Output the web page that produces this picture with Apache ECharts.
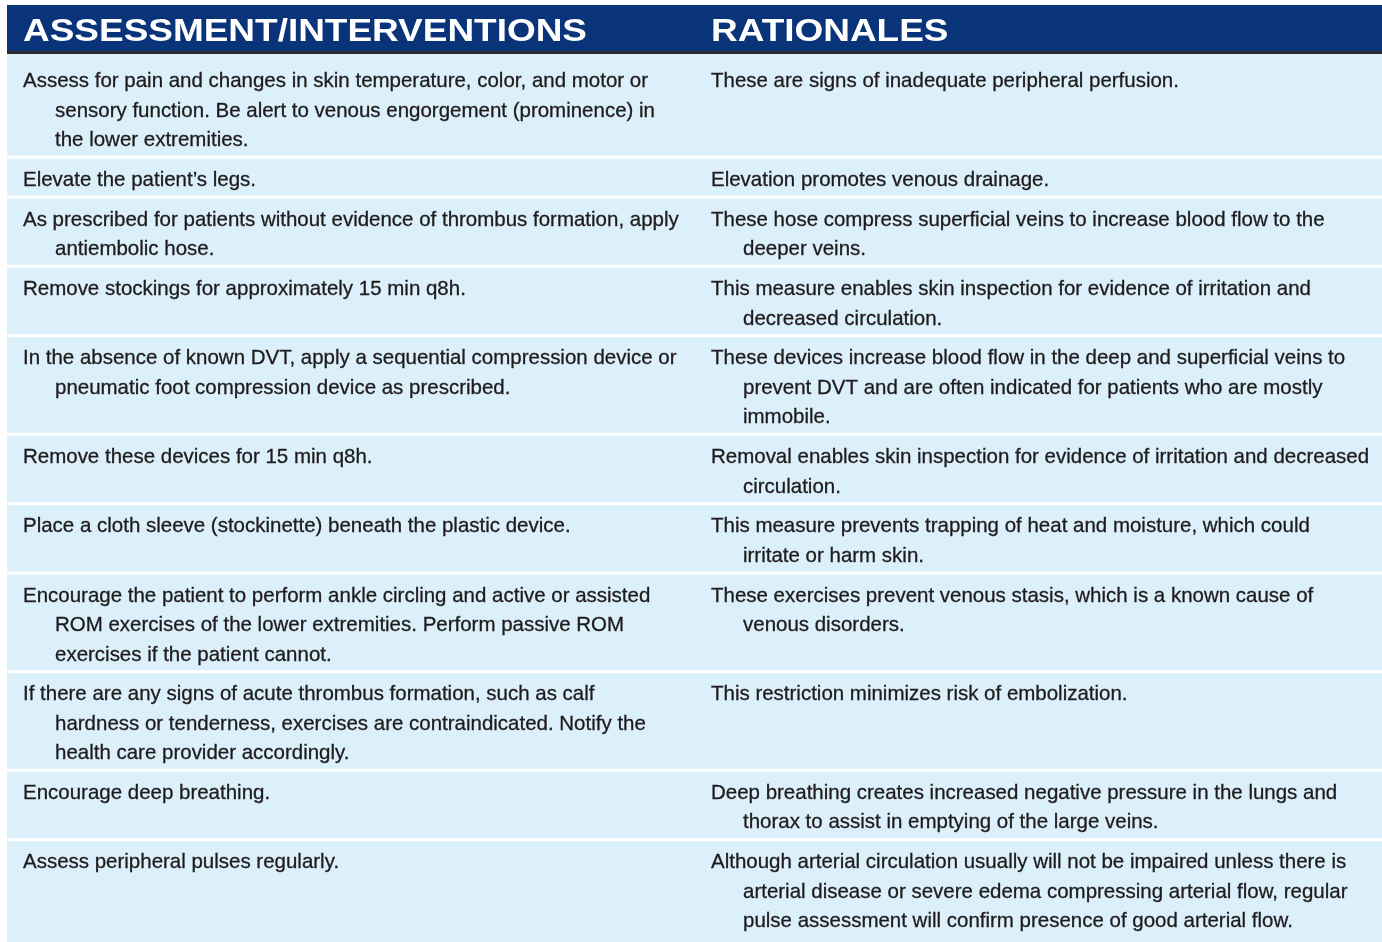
<!DOCTYPE html>
<html>
<head>
<meta charset="utf-8">
<script src="https://cdn.jsdelivr.net/npm/echarts@6/dist/echarts.min.js"></script>
<style>
html,body{margin:0;padding:0;background:#fff;}
#chart{width:1382px;height:942px;}
</style>
</head>
<body>
<div id="chart"></div>
<script>
const headers = ['ASSESSMENT/INTERVENTIONS', 'RATIONALES'];

const interventions = [
  ['Assess for pain and changes in skin temperature, color, and motor or', 'sensory function. Be alert to venous engorgement (prominence) in', 'the lower extremities.'],
  ['Elevate the patient\u2019s legs.'],
  ['As prescribed for patients without evidence of thrombus formation, apply', 'antiembolic hose.'],
  ['Remove stockings for approximately 15 min q8h.'],
  ['In the absence of known DVT, apply a sequential compression device or', 'pneumatic foot compression device as prescribed.'],
  ['Remove these devices for 15 min q8h.'],
  ['Place a cloth sleeve (stockinette) beneath the plastic device.'],
  ['Encourage the patient to perform ankle circling and active or assisted', 'ROM exercises of the lower extremities. Perform passive ROM', 'exercises if the patient cannot.'],
  ['If there are any signs of acute thrombus formation, such as calf', 'hardness or tenderness, exercises are contraindicated. Notify the', 'health care provider accordingly.'],
  ['Encourage deep breathing.'],
  ['Assess peripheral pulses regularly.']
];

const rationales = [
  ['These are signs of inadequate peripheral perfusion.'],
  ['Elevation promotes venous drainage.'],
  ['These hose compress superficial veins to increase blood flow to the', 'deeper veins.'],
  ['This measure enables skin inspection for evidence of irritation and', 'decreased circulation.'],
  ['These devices increase blood flow in the deep and superficial veins to', 'prevent DVT and are often indicated for patients who are mostly', 'immobile.'],
  ['Removal enables skin inspection for evidence of irritation and decreased', 'circulation.'],
  ['This measure prevents trapping of heat and moisture, which could', 'irritate or harm skin.'],
  ['These exercises prevent venous stasis, which is a known cause of', 'venous disorders.'],
  ['This restriction minimizes risk of embolization.'],
  ['Deep breathing creates increased negative pressure in the lungs and', 'thorax to assist in emptying of the large veins.'],
  ['Although arterial circulation usually will not be impaired unless there is', 'arterial disease or severe edema compressing arterial flow, regular', 'pulse assessment will confirm presence of good arterial flow.']
];

// ---- layout derived from the data (in "line" units) ----
const GAP = 0.357;      // white gap between rows, in lines
const PAD = 0.254;      // extra cell height beyond the text lines
const LINE_PX = 29.5;
const rowLines = interventions.map((a, i) => Math.max(a.length, rationales[i].length));
const rows = [];
let acc = 0;
rowLines.forEach((n, i) => {
  rows.push([i, acc, acc + n + PAD]);
  acc += n + GAP;
});
const yMax = 30;

// font fitting (Arial-metric sans, condensed horizontally)
const BODY_FONT = "'Liberation Sans', Arial, sans-serif";
const HEAD_FONT = "'Liberation Sans', Arial, sans-serif";
const cv = document.createElement('canvas').getContext('2d');
cv.font = "21px " + BODY_FONT;
const bodyScale = 625 / cv.measureText(interventions[0][0]).width;
cv.font = "bold 32px " + HEAD_FONT;
const headScale = 564 / cv.measureText(headers[0]).width;

const TEXT_COLOR = '#1f1b1c';
const CELL_COLOR = '#dbf0fb';
const NAVY = '#0a3479';

const chart = echarts.init(document.getElementById('chart'), null, {renderer: 'canvas'});

function renderItem(params, api) {
  const i = api.value(0), s = api.value(1), e = api.value(2);
  const cs = params.coordSys;
  const p0 = api.coord([0, s]);
  const p1 = api.coord([0, e]);
  let top = p0[1];
  if (i === 0) top = cs.y - 6;
  let bottom = p1[1];
  if (i === rows.length - 1) bottom = cs.y + cs.height;
  const children = [{
    type: 'rect',
    shape: {x: cs.x, y: top, width: cs.width, height: bottom - top},
    style: {fill: CELL_COLOR}
  }];
  const cols = [[interventions[i], 16], [rationales[i], 704]];
  cols.forEach(([lines, off]) => {
    lines.forEach((t, j) => {
      const y = api.coord([0, s + 0.678 + j])[1] + 1.5;
      children.push({
        type: 'text',
        x: cs.x + off + (j > 0 ? 32 : 0),
        y: y,
        scaleX: bodyScale,
        style: {
          text: t, x: 0, y: 0,
          fill: TEXT_COLOR,
          stroke: TEXT_COLOR,
          lineWidth: 0.3,
          fontSize: 21,
          fontFamily: BODY_FONT,
          align: 'left',
          verticalAlign: 'middle'
        }
      });
    });
  });
  return {type: 'group', children};
}

const option = {
  backgroundColor: '#ffffff',
  animation: false,
  grid: {left: 7, right: 0, top: 60, height: yMax * LINE_PX, containLabel: false},
  xAxis: {type: 'value', min: 0, max: 1, show: false},
  yAxis: {type: 'value', min: 0, max: yMax, inverse: true, show: false},
  graphic: [
    {type: 'rect', shape: {x: 7, y: 5, width: 1375, height: 46}, style: {fill: NAVY}},
    {type: 'rect', shape: {x: 7, y: 51, width: 1375, height: 3}, style: {fill: '#2a2a2a'}},
    {type: 'text', x: 23, y: 32.5, scaleX: headScale,
      style: {text: headers[0], x: 0, y: 0, fill: '#ffffff', fontSize: 32, fontWeight: 'bold', fontFamily: HEAD_FONT, verticalAlign: 'middle'}},
    {type: 'text', x: 711, y: 32.5, scaleX: headScale,
      style: {text: headers[1], x: 0, y: 0, fill: '#ffffff', fontSize: 32, fontWeight: 'bold', fontFamily: HEAD_FONT, verticalAlign: 'middle'}}
  ],
  series: [{
    type: 'custom',
    renderItem: renderItem,
    coordinateSystem: 'cartesian2d',
    encode: {x: -1, y: [1, 2]},
    data: rows,
    clip: false,
    silent: true
  }]
};
chart.setOption(option);
</script>
</body>
</html>
